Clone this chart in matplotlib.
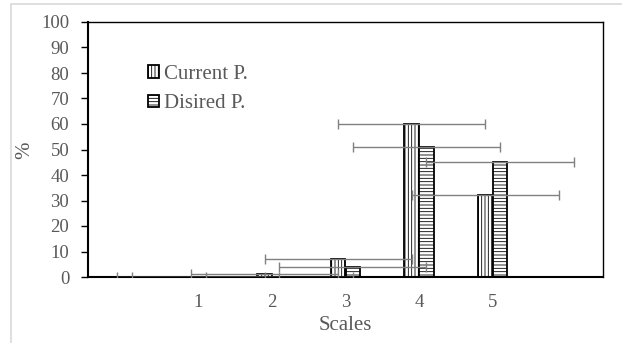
import matplotlib
matplotlib.use("Agg")
import matplotlib.pyplot as plt
from matplotlib.patches import Rectangle

plt.rcParams['font.family'] = ['Liberation Serif', 'DejaVu Serif']
plt.rcParams['hatch.linewidth'] = 0.6
plt.rcParams['hatch.color'] = 'black'

categories = ["", "1", "2", "3", "4", "5", ""]
current = [0, 0, 1, 7, 60, 32, 0]
desired = [0, 0, 0, 4, 51, 45, 0]
err_x = [1, 1, 1, 1, 1, 1, 1]
yticks = list(range(0, 101, 10))

gray = '#595959'
W, H = 622, 343
fig = plt.figure(figsize=(W/100, H/100), dpi=100)
fig.patches.append(Rectangle((11/W, -0.1), 1.2, 1 - 4/H + 0.1, transform=fig.transFigure,
                             fill=False, edgecolor='#d9d9d9', linewidth=1.2))
ax = fig.add_axes([88/W, (H-277)/H, (603-88)/W, (277-22)/H])

n = len(categories) - 1
xs = list(range(1, n))
cur = current[1:n]
des = desired[1:n]
bw = 0.2
xc = [x - bw/2 for x in xs]
xd = [x + bw/2 for x in xs]
ax.bar(xc, cur, width=bw, facecolor='white', edgecolor='black', linewidth=1.3,
       hatch='|||||', label='Current P.', zorder=2)
ax.bar(xd, des, width=bw, facecolor='white', edgecolor='black', linewidth=1.3,
       hatch='-----', label='Disired P.', zorder=2)
ax.errorbar(xc, cur, xerr=err_x[1:n], fmt='none', ecolor='#808080', elinewidth=1,
            capsize=3.5, capthick=1, zorder=3)
ax.errorbar(xd, des, xerr=err_x[1:n], fmt='none', ecolor='#808080', elinewidth=1,
            capsize=3.5, capthick=1, zorder=3)

ax.set_xlim(-0.5, len(categories) - 0.5)
ax.set_ylim(0, 100)
ax.set_xticks(range(len(categories)))
ax.set_xticklabels(categories)
ax.set_yticks(yticks)
ax.tick_params(axis='x', length=0, pad=12.5, labelsize=13.5, labelcolor=gray)
ax.tick_params(axis='y', length=5, width=1, direction='out', pad=8.5, labelsize=13.5, labelcolor=gray)
for s in ['left', 'bottom']:
    ax.spines[s].set_linewidth(1.5)
for s in ['top', 'right']:
    ax.spines[s].set_linewidth(1.0)
ax.set_xlabel('Scales', fontsize=15, color=gray, va='center')
ax.xaxis.set_label_coords((345-88)/515, (277-325)/255)
ax.set_ylabel('%', fontsize=15, color=gray, va='center')
ax.yaxis.set_label_coords((25-88)/515, (277-150)/255)

leg = ax.legend(loc='upper left', bbox_to_anchor=((148-88)/515, (277-65)/255), frameon=False,
                handlelength=0.55, handleheight=0.55, handletextpad=0.2,
                labelspacing=0.5, fontsize=15, borderaxespad=0, borderpad=0)
for t in leg.get_texts():
    t.set_color(gray)

fig.savefig('out.png', dpi=100)
